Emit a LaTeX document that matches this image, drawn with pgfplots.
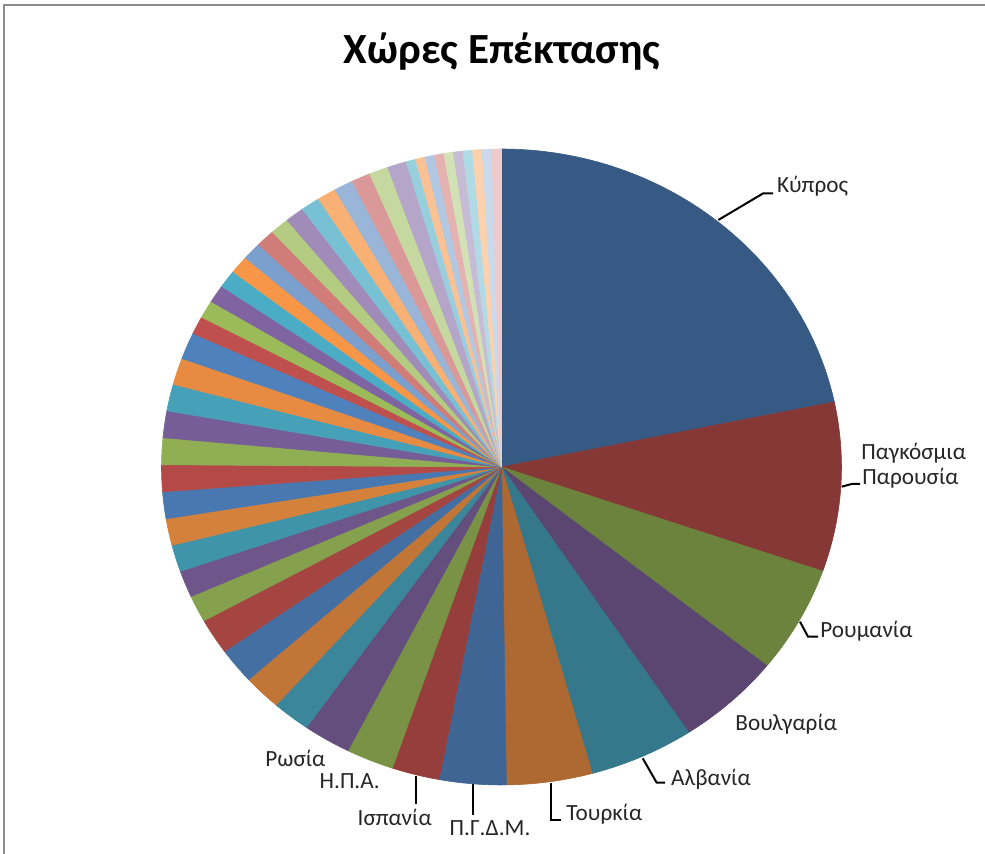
\documentclass[border=0pt]{standalone}
\usepackage{pgfplots}
\pgfplotsset{compat=1.18}
\usepackage{pgfplotstable}
\usepackage{fontspec}
\setmainfont{Carlito}

\definecolor{b0}{HTML}{4F81BD}
\definecolor{b1}{HTML}{C0504D}
\definecolor{b2}{HTML}{9BBB59}
\definecolor{b3}{HTML}{8064A2}
\definecolor{b4}{HTML}{4BACC6}
\definecolor{b5}{HTML}{F79646}

\pgfplotstableread{
slice value
1 48
2 19
3 12
4 11
5 11
6 9
7 7
8 5
9 5
10 5
11 4
12 4
13 4
14 4
15 3
16 3
17 3
18 3
19 3
20 3
21 3
22 3
23 3
24 3
25 3
26 2
27 2
28 2
29 2
30 2
31 2
32 2
33 2
34 2
35 2
36 2
37 2
38 2
39 2
40 2
41 1
42 1
43 1
44 1
45 1
46 1
47 1
48 1
49 1
50 1
}\pietable

\newcommand\lbl{\fontsize{11.6}{14}\selectfont}

\begin{document}
\begin{tikzpicture}
\begin{axis}[at={(0,0)}, anchor=south west, scale only axis,
  width=492.5pt, height=427pt,
  xmin=-1.475, xmax=1.42206, ymin=-1.21698, ymax=1.46855,
  hide axis, clip=false]
\def\pieTotal{0}
\pgfplotsforeachungrouped \i in {0,...,49}{%
  \pgfplotstablegetelem{\i}{value}\of\pietable
  \pgfmathsetmacro\pieTotal{\pieTotal+\pgfplotsretval}%
}
\def\pieCum{0}
\pgfplotsforeachungrouped \i in {0,...,49}{%
  \pgfplotstablegetelem{\i}{value}\of\pietable
  \let\pieV\pgfplotsretval
  \pgfmathsetmacro\pieA{90-\pieCum/\pieTotal*360}%
  \pgfmathsetmacro\pieCumNew{\pieCum+\pieV}%
  \pgfmathsetmacro\pieB{90-\pieCumNew/\pieTotal*360}%
  \pgfmathtruncatemacro\pieNs{max(2,ceil(\pieV/\pieTotal*240)+1)}%
  \pgfmathtruncatemacro\pieK{mod(\i,6)}%
  \pgfmathtruncatemacro\pieC{floor(\i/6)}%
  \ifcase\pieC \def\pieS{70!black}\or \def\pieS{78!black}\or \def\pieS{86!black}\or
    \def\pieS{93!black}\or \def\pieS{100}\or \def\pieS{75!white}\or
    \def\pieS{58!white}\or \def\pieS{44!white}\else \def\pieS{30!white}\fi
  \edef\pieCmd{\noexpand\addplot[fill=b\pieK!\pieS, draw=b\pieK!\pieS, line width=0.3pt, domain=\pieB:\pieA, samples=\pieNs, data cs=polar] ({x},{1}) -- (axis cs:0,0) -- cycle;}%
  \pieCmd
  \let\pieCum\pieCumNew
}
\end{axis}
\begin{scope}[x=0.5pt, y=-0.5pt, shift={(0,427pt)}]
  \draw[black!45, line width=1pt] (4,854) -- (4,5) -- (985,5);
  \node[anchor=base, inner sep=0pt, font=\fontsize{21.5}{26}\selectfont\bfseries] at (502,64) {Χώρες Επέκτασης};
  \begin{scope}[line width=1pt, black]
    \draw (718.3,220) -- (763.3,193.3) -- (773,193.3);
    \draw (841.7,486.7) -- (851.7,484) -- (860,484);
    \draw (800,621.7) -- (808,636.7) -- (818,636.7);
    \draw (642.7,758.3) -- (656.7,782.7) -- (665,782.7);
    \draw (551,783) -- (551,820) -- (561,820);
    \draw (473.3,784) -- (473.3,815);
    \draw (415.7,776) -- (415.7,804);
  \end{scope}
  \begin{scope}[every node/.style={inner sep=0pt, font=\lbl, text=black!85}]
  \node[anchor=base west] at (776.7,193) {Κύπρος};
  \node[anchor=base] at (913.7,459.3) {Παγκόσμια};
  \node[anchor=base] at (910.5,484.3) {Παρουσία};
  \node[anchor=base west] at (820,637.7) {Ρουμανία};
  \node[anchor=base west] at (735,730.7) {Βουλγαρία};
  \node[anchor=base west] at (670.7,786) {Αλβανία};
  \node[anchor=base west] at (566,821) {Τουρκία};
  \node[anchor=base west] at (449.3,836) {Π.Γ.Δ.Μ.};
  \node[anchor=base west] at (357.3,826) {Ισπανία};
  \node[anchor=base west] at (319.3,788.3) {Η.Π.Α.};
  \node[anchor=base west] at (265,767) {Ρωσία};
  \end{scope}
  \pgfresetboundingbox
  \path[use as bounding box] (0,0) rectangle (985,854);
\end{scope}
\end{tikzpicture}
\end{document}
